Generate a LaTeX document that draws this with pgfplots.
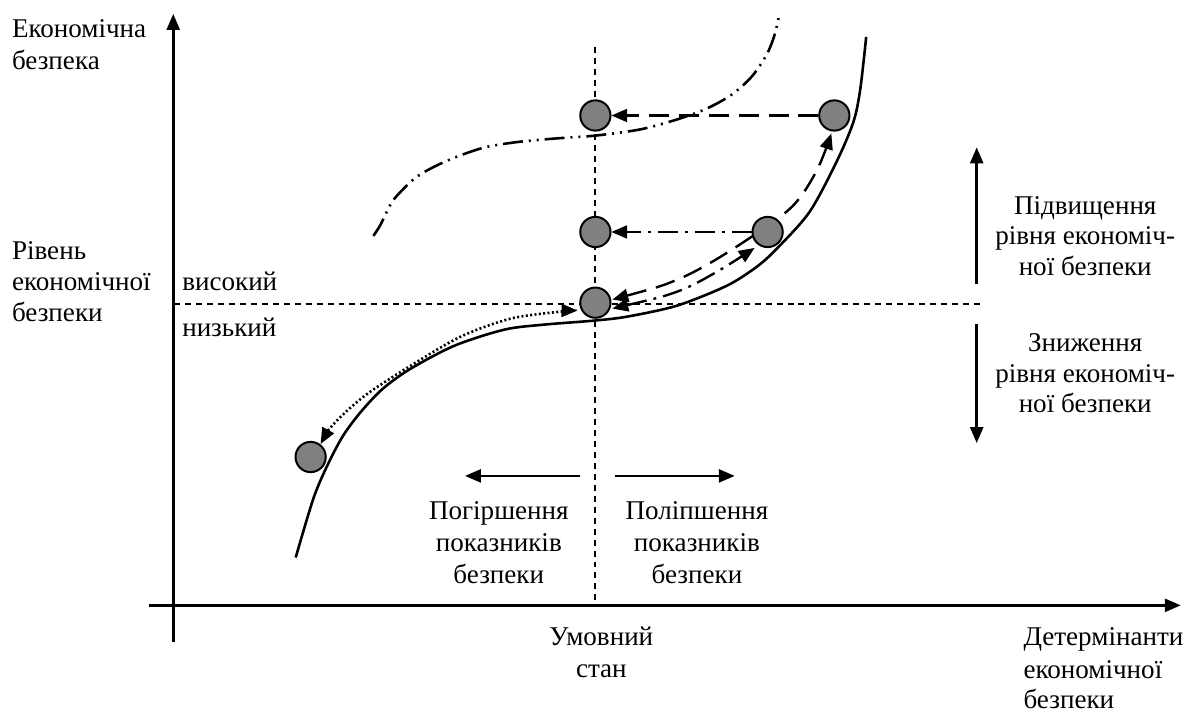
\documentclass[border=0pt]{standalone}
\usepackage{fontspec}
\setmainfont{Liberation Serif}
\usepackage{pgfplots}
\pgfplotsset{compat=1.18}
\usetikzlibrary{arrows.meta}
\newcommand\f{\fontsize{13.6pt}{16pt}\selectfont}
\begin{document}
\begin{tikzpicture}[font=\f,
  tip/.style={-{Triangle[length=8pt,width=6.5pt]}},
  tips/.style={{Triangle[length=8pt,width=6.5pt]}-{Triangle[length=8pt,width=6.5pt]}}]
\begin{axis}[width=595pt,height=357.5pt,scale only axis,
  xmin=0,xmax=1190,ymin=0,ymax=715,y dir=reverse,hide axis,clip=false]
\path (axis cs:0,0) rectangle (axis cs:1190,715);
% axes
\addplot[line width=1.3pt,tip] coordinates {(174,645) (174,14)};
\addplot[line width=1.3pt,tip] coordinates {(150,608) (1186,608)};
% reference lines
\addplot[line width=1pt,dash pattern=on 3pt off 2.5pt] coordinates {(598,47) (598,608)};
\addplot[line width=1pt,dash pattern=on 3pt off 2.5pt] coordinates {(175,305) (985,305)};
% solid curve
\addplot[line width=1.3pt,smooth] coordinates {
(297,560) (315,500) (330,465) (345,437) (363,413) (385,390) (413,370) (457,347)
(507,331) (547,326) (597,322) (630,318) (680,307) (730,287) (760,268) (780,250)
(813,213) (840,163) (857,123) (864,90) (870,37)};
% dash-dot-dot curve
\addplot[line width=1.3pt,smooth,dash pattern=on 10pt off 3pt on 1pt off 3pt on 1pt off 3pt] coordinates {
(375,237) (382,226) (393,204) (403,192) (418,178) (437,167) (460,157) (487,148)
(517,143) (547,140) (573,138) (600,136) (643,130) (680,120) (710,109) (735,95)
(755,77) (770,55) (778,35) (783,13)};
% dotted double arrow
\addplot[line width=1.3pt,smooth,tips,dash pattern=on 1pt off 1.2pt] coordinates {
(322,446) (336,425) (367,397) (413,367) (463,338) (513,320) (563,313) (580,312)};
% long dashed double arrow
\addplot[line width=1.2pt,smooth,tips,dash pattern=on 10pt off 5pt] coordinates {
(615,301) (680,281) (730,254) (793,210) (820,172) (835,134)};
% dash-dot double arrow
\addplot[line width=1.2pt,smooth,tips,dash pattern=on 10pt off 3.5pt on 1.5pt off 3.5pt] coordinates {
(615,310) (680,293) (720,273) (758,249)};
% horizontal arrows
\addplot[line width=1.2pt,tip,dash pattern=on 10pt off 5pt] coordinates {(822,116) (614,116)};
\addplot[line width=1.2pt,tip,dash pattern=on 10pt off 3.5pt on 1.5pt off 3.5pt] coordinates {(755,233) (614,233)};
% direction arrows
\addplot[line width=1.3pt,tip] coordinates {(981,285) (981,148)};
\addplot[line width=1.3pt,tip] coordinates {(981,325) (981,445)};
\addplot[line width=1.3pt,tip] coordinates {(583,478) (467,478)};
\addplot[line width=1.3pt,tip] coordinates {(618,478) (738,478)};
% points
\addplot[only marks,mark=*,mark size=7.6pt,mark options={fill=gray,draw=black,line width=1pt}]
 coordinates {(598,116) (838,116) (598,233) (771,233) (598,304) (312,459)};
% labels
\node[anchor=base west] at (axis cs:5,38) {Економічна};
\node[anchor=base west] at (axis cs:5,70) {безпека};
\node[anchor=base west] at (axis cs:5,261) {Рівень};
\node[anchor=base west] at (axis cs:5,292) {економічної};
\node[anchor=base west] at (axis cs:5,323) {безпеки};
\node[anchor=base west] at (axis cs:176,292) {високий};
\node[anchor=base west] at (axis cs:176,338) {низький};
\node[anchor=base] at (axis cs:1090,215) {Підвищення};
\node[anchor=base] at (axis cs:1090,246) {рівня економіч-};
\node[anchor=base] at (axis cs:1090,277) {ної безпеки};
\node[anchor=base] at (axis cs:1090,353) {Зниження};
\node[anchor=base] at (axis cs:1090,384) {рівня економіч-};
\node[anchor=base] at (axis cs:1090,414) {ної безпеки};
\node[anchor=base] at (axis cs:501,522) {Погіршення};
\node[anchor=base] at (axis cs:501,554) {показників};
\node[anchor=base] at (axis cs:501,586) {безпеки};
\node[anchor=base] at (axis cs:700,522) {Поліпшення};
\node[anchor=base] at (axis cs:700,554) {показників};
\node[anchor=base] at (axis cs:700,586) {безпеки};
\node[anchor=base] at (axis cs:604,648) {Умовний};
\node[anchor=base] at (axis cs:604,680) {стан};
\node[anchor=base west] at (axis cs:1021,648) {Детермінанти};
\node[anchor=base west] at (axis cs:1021,681) {економічної};
\node[anchor=base west] at (axis cs:1021,712) {безпеки};
\end{axis}
\end{tikzpicture}
\end{document}
